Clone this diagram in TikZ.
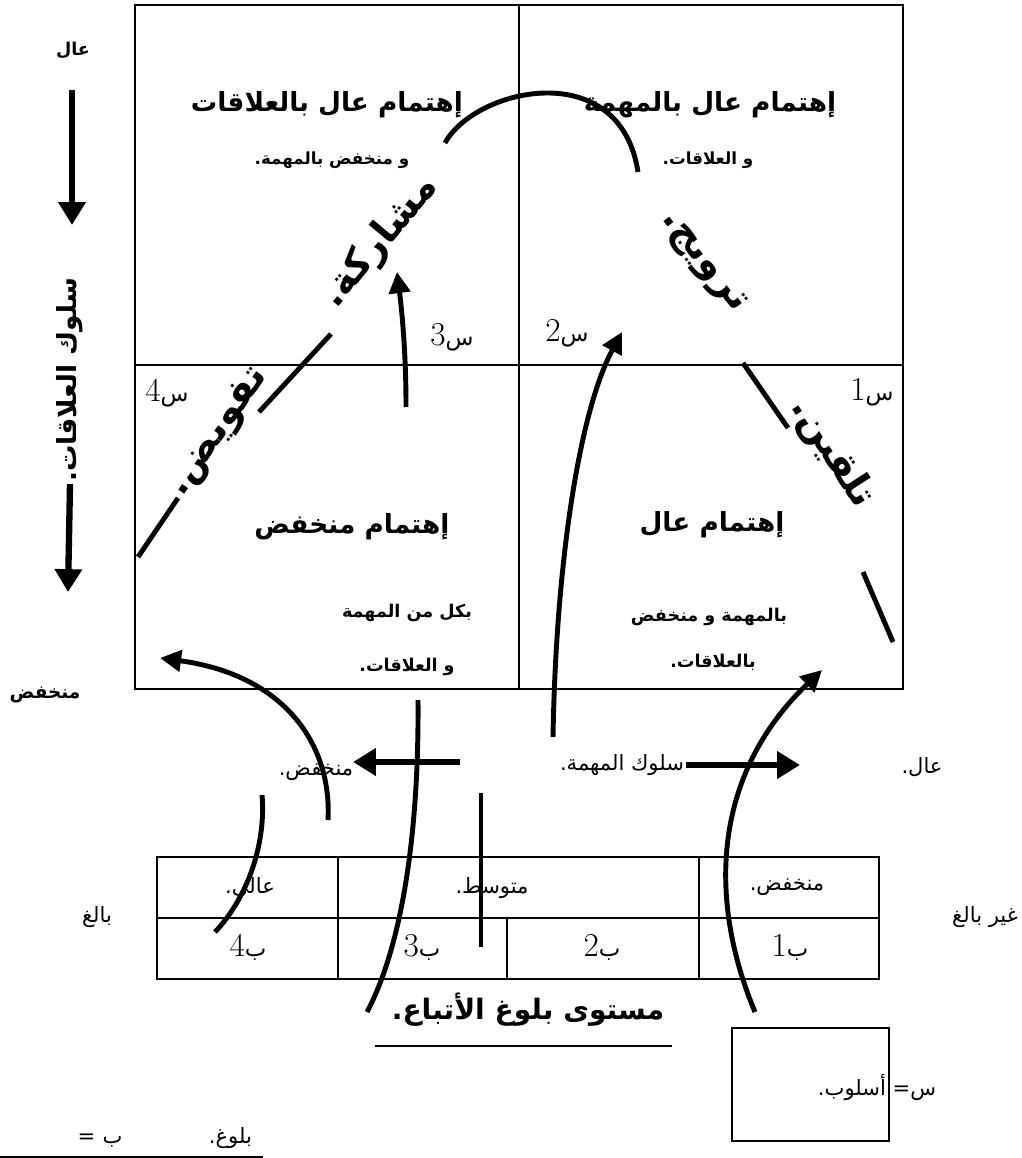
\documentclass[tikz,border=0pt]{standalone}
\usepackage{fontspec}
\usetikzlibrary{arrows.meta}
\newfontfamily\arabicfont[Script=Arabic]{DejaVu Sans}
\TeXXeTstate=1
\newcommand{\rl}[1]{\beginR #1\endR}
\newcommand{\letnum}[2]{#2{\arabicfont\fontsize{13}{15}\selectfont #1}}

\begin{document}
\begin{tikzpicture}[x=0.02cm, y=-0.02cm,
  curve/.style={line width=2.8pt},
  tipcurve/.style={line width=2.8pt, -{Triangle[length=12pt,width=12pt]}},
  axisarrow/.style={line width=3.6pt, -{Triangle[length=13pt,width=15pt]}},
  frame/.style={line width=1.3pt},
  head/.style={font=\arabicfont\bfseries\fontsize{15}{18}\selectfont},
  sub/.style={font=\arabicfont\bfseries\fontsize{9.5}{12}\selectfont},
  bigword/.style={font=\arabicfont\bfseries\fontsize{22}{26}\selectfont},
  plain/.style={font=\arabicfont\fontsize{12}{14}\selectfont},
  sym/.style={font=\fontsize{19}{22}\selectfont},
  inner sep=1pt]
  \useasboundingbox (0,0) rectangle (1021,1158);

  % leader grid
  \draw[frame] (135,5) rectangle (903,689);
  \draw[frame] (519,5) -- (519,689);
  \draw[frame] (135,365) -- (903,365);

  \node[head] (h1) at (327,105) {\rl{إهتمام عال بالعلاقات}};
  \node[sub] (h1b) at (332,160) {\rl{و منخفض بالمهمة.}};
  \node[head] (h2) at (710,105) {\rl{إهتمام عال بالمهمة}};
  \node[sub] (h2b) at (708,160) {\rl{و العلاقات.}};
  \node[head] (h3) at (352,527) {\rl{إهتمام منخفض}};
  \node[sub, font=\arabicfont\bfseries\fontsize{10}{12}\selectfont] (h3b) at (407,613) {\rl{بكل من المهمة}};
  \node[sub, font=\arabicfont\bfseries\fontsize{10}{12}\selectfont] (h3c) at (407,667) {\rl{و العلاقات.}};
  \node[head] (h4) at (712,525) {\rl{إهتمام عال}};
  \node[sub, font=\arabicfont\bfseries\fontsize{10}{12}\selectfont] (h4b) at (709,617) {\rl{بالمهمة و منخفض}};
  \node[sub, font=\arabicfont\bfseries\fontsize{10}{12}\selectfont] (h4c) at (713,662) {\rl{بالعلاقات.}};

  \node[sym] (s1) at (872,392) {\letnum{س}{1}};
  \node[sym] (s2) at (567,333) {\letnum{س}{2}};
  \node[sym] (s3) at (452,337) {\letnum{س}{3}};
  \node[sym] (s4) at (167,393) {\letnum{س}{4}};

  \node[bigword, rotate=50] (w3) at (380,242) {\rl{مشاركة.}};
  \node[bigword, rotate=-52] (w2) at (702,263) {\rl{ترويج.}};
  \node[bigword, rotate=55] (w4) at (219,432) {\rl{تفويض.}};
  \node[bigword, rotate=-57] (w1) at (832,453) {\rl{تلقين.}};

  % relationship axis
  \node[font=\arabicfont\bfseries\fontsize{10}{12}\selectfont] (hiR) at (73,50) {\rl{عال}};
  \node[font=\arabicfont\bfseries\fontsize{10.5}{12}\selectfont] (loR) at (45,695) {\rl{منخفض}};
  \node[font=\arabicfont\bfseries\fontsize{15}{17}\selectfont, rotate=90] (relaxis) at (70,380) {\rl{سلوك العلاقات.}};
  \coordinate (a1) at (72,90);
  \coordinate (a1e) at (72,225);
  \coordinate (a2e) at (68,592);
  \draw[axisarrow] (a1) -- (a1e);
  \draw[axisarrow] (relaxis.west) -- (a2e);

  % task axis
  \node[plain] (loT) at (316,772) {\rl{منخفض.}};
  \node[plain] (task) at (622,765) {\rl{سلوك المهمة.}};
  \node[plain] (hiT) at (922,767) {\rl{عال.}};
  \coordinate (t1) at (460,762);
  \coordinate (t1e) at (353,762);
  \coordinate (t2e) at (800,765);
  \draw[axisarrow] (t1) -- (t1e);
  \draw[axisarrow] (task.east) -- (t2e);

  % maturity table
  \draw[frame] (157,857) rectangle (879,979);
  \draw[frame] (157,918) -- (879,918);
  \draw[frame] (338,857) -- (338,979);
  \draw[frame] (699,857) -- (699,979);
  \draw[frame] (507,918) -- (507,979);
  \node[plain] (m4) at (250,888) {\rl{عالي.}};
  \node[plain] (m23) at (492,888) {\rl{متوسط.}};
  \node[plain] (m1) at (787,887) {\rl{منخفض.}};
  \node[sym] (b4) at (248,947) {\letnum{ب}{4}};
  \node[sym] (b3) at (422,947) {\letnum{ب}{3}};
  \node[sym] (b2) at (602,947) {\letnum{ب}{2}};
  \node[sym] (b1) at (790,947) {\letnum{ب}{1}};
  \node[plain] (mature) at (97,917) {\rl{بالغ}};
  \node[plain] (immature) at (985,917) {\rl{غير بالغ}};

  \node[font=\arabicfont\bfseries\fontsize{16}{19}\selectfont] (title) at (528,1010) {\rl{مستوى بلوغ الأتباع.}};
  \draw[line width=1.5pt] (375,1046) -- (672,1046);

  % legend
  \draw[line width=1.1pt] (732,1028) rectangle (889,1141);
  \node[plain] (keyS) at (877,1088) {\rl{س= أسلوب.}};
  \node[plain, anchor=east] (keyB) at (254,1138) {\rl{بلوغ.\hspace{4.1em}ب\hspace{0.35em}=}};
  \draw[line width=1.1pt] (0,1157) -- (263,1157);

  % life cycle curve
  \draw[curve] (445,143) .. controls (475,88) and (620,55) .. (638,172);
  \draw[curve] (331,334) -- (259,412);
  \draw[curve] (178,498) -- (138,557);
  \draw[curve] (743,363) -- (788,428);
  \draw[curve] (863,572) -- (893,642);

  % style arrows
  \coordinate (c3a) at (406,407);
  \coordinate (c3b) at (397,272);
  \draw[tipcurve] (c3a) .. controls (406,360) and (403,320) .. (c3b);
  \coordinate (c2a) at (553,737);
  \coordinate (c2b) at (622,332);
  \draw[tipcurve] (c2a) .. controls (556,560) and (580,410) .. (c2b);
  \coordinate (c1a) at (755,1012);
  \coordinate (c1b) at (822,670);
  \draw[tipcurve] (c1a) .. controls (708,900) and (712,775) .. (c1b);
  \coordinate (c4a) at (328,820);
  \coordinate (c4b) at (160,658);
  \draw[tipcurve] (c4a) .. controls (332,745) and (285,675) .. (c4b);
  \coordinate (d1a) at (262,795);
  \coordinate (d1b) at (215,932);
  \draw[curve] (d1a) .. controls (266,840) and (250,895) .. (d1b);
  \coordinate (d2a) at (418,700);
  \coordinate (d2b) at (367,1012);
  \draw[curve] (d2a) .. controls (419,820) and (405,940) .. (d2b);
  \coordinate (d3a) at (481,793);
  \coordinate (d3b) at (481,947);
  \draw[curve] (d3a) -- (d3b);
\end{tikzpicture}
\end{document}
